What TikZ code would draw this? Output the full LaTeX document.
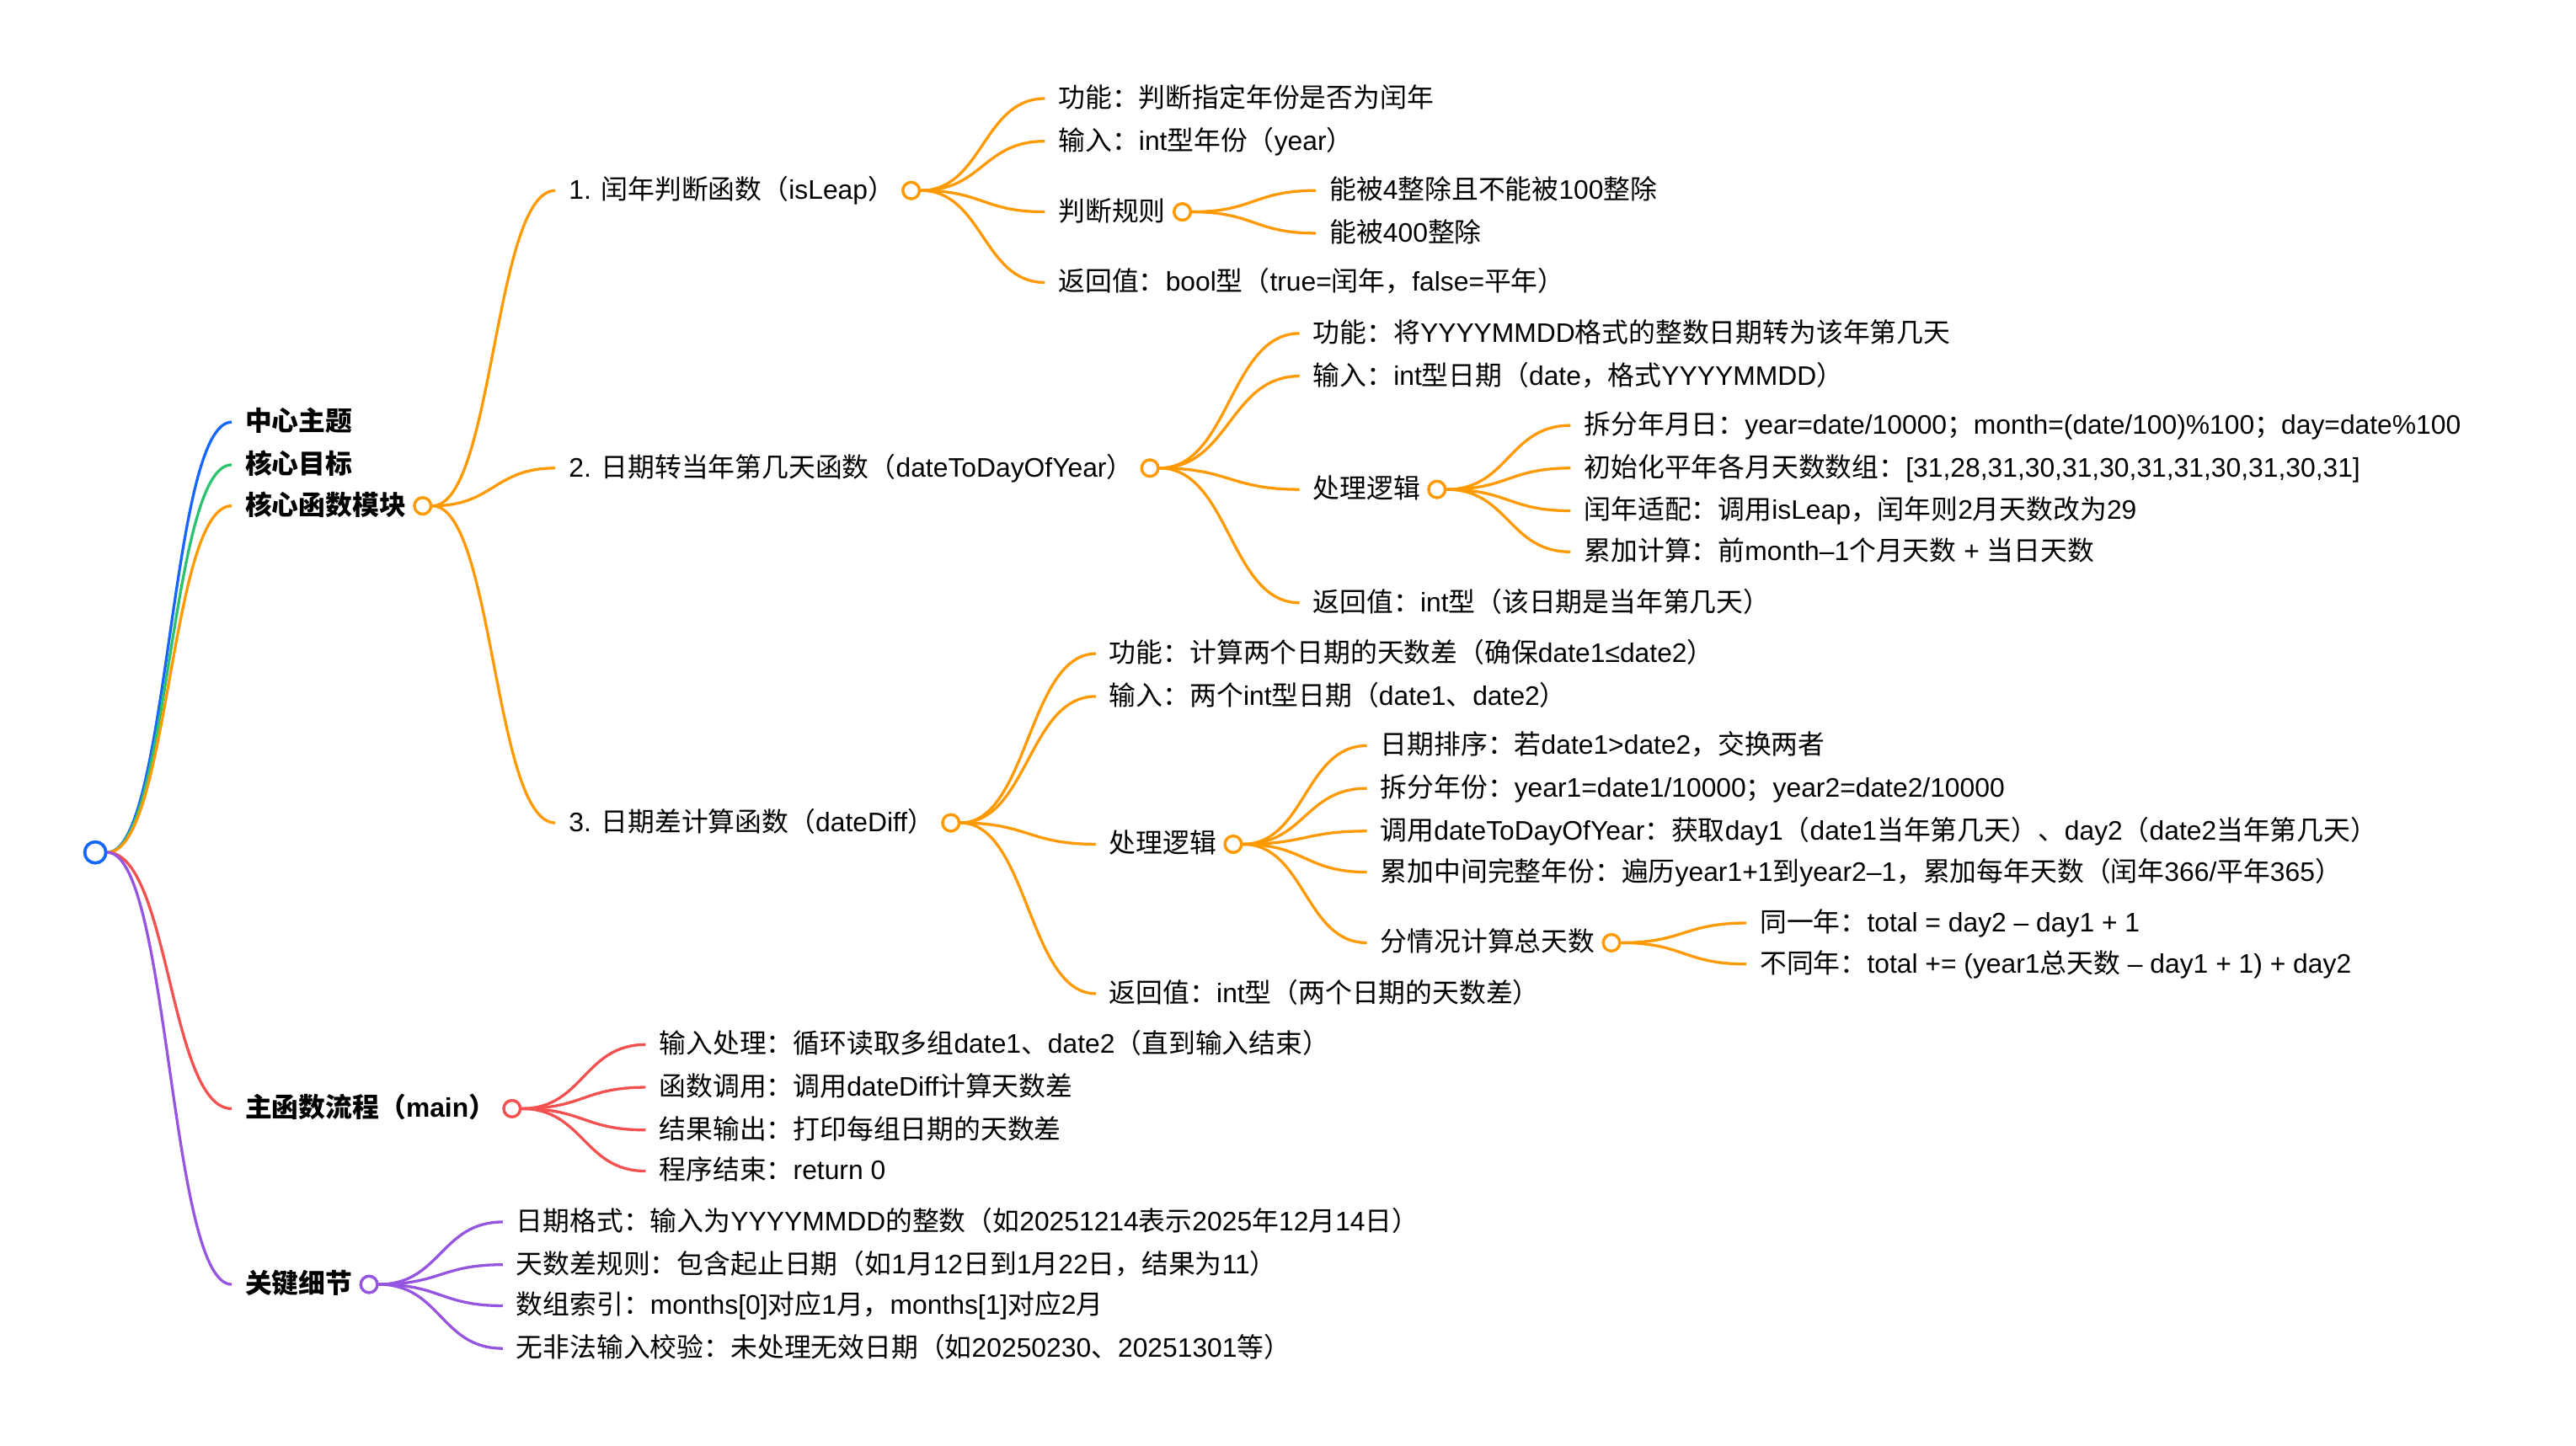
\documentclass[tikz,border=0pt]{standalone}
\usepackage{fontspec}
\setmainfont{Liberation Sans}
\newfontfamily\cjkfont{Noto Sans CJK SC}
\newfontfamily\latfont{Liberation Sans}
\usetikzlibrary{calc}
\newXeTeXintercharclass\CJKcls
\newcount\cjkc
\def\setcjkrange#1#2{\cjkc=#1 \loop \XeTeXcharclass\cjkc=\CJKcls \ifnum\cjkc<#2 \advance\cjkc by 1 \repeat}
\setcjkrange{"4E00}{"9FFF}
\setcjkrange{"3000}{"303F}
\setcjkrange{"FF00}{"FFEF}
\XeTeXinterchartoks 0 \CJKcls = {\cjkfont}
\XeTeXinterchartoks 4095 \CJKcls = {\cjkfont}
\XeTeXinterchartoks \CJKcls 0 = {\latfont}
\XeTeXinterchartoks \CJKcls 4095 = {\latfont}
\XeTeXinterchartokenstate=1
\definecolor{cblue}{RGB}{22,102,255}
\definecolor{cgreen}{RGB}{45,195,110}
\definecolor{corange}{RGB}{255,153,0}
\definecolor{cred}{RGB}{244,80,80}
\definecolor{cpurple}{RGB}{150,85,225}
\newcommand\mmedge[3]{\draw[#1, line width=1.2pt] let \p1=(#2.east), \p2=([xshift=-0.2cm]#3.west) in (\p1) .. controls ({(\x1+\x2)/2},\y1) and ({(\x1+\x2)/2},\y2) .. (\p2);}
\begin{document}
\begin{tikzpicture}[x=0.025cm,y=-0.025cm,
  txt/.style={anchor=west, inner sep=0pt, font=\fontsize{11.6}{14}\selectfont, text height=0.86em, text depth=0.1em},
  hd/.style={txt, font=\fontsize{11.6}{14}\selectfont\bfseries},
  dot/.style={circle, draw=#1, fill=white, line width=1.2pt, inner sep=0pt, minimum size=0.25cm, anchor=west}]
\useasboundingbox (0,0) rectangle (1568,880);
% root
\node[circle, draw=cblue, fill=white, line width=1.3pt, inner sep=0pt, minimum size=0.32cm] (root) at (58,519) {};
% level 1
\node[hd] (t1) at (149,257) {中心主题};
\node[hd] (t2) at (149,283) {核心目标};
\node[hd] (t3) at (149,308) {核心函数模块};
\node[hd] (t4) at (149,675) {主函数流程（main）};
\node[hd] (t5) at (149,782) {关键细节};
\node[dot=corange] (t3c) at ([xshift=0.1cm]t3.east) {};
\node[dot=cred] (t4c) at ([xshift=0.1cm]t4.east) {};
\node[dot=cpurple] (t5c) at ([xshift=0.1cm]t5.east) {};
% function 1
\node[txt] (a1) at (346,116) {1. 闰年判断函数（isLeap）};
\node[dot=corange] (a1c) at ([xshift=0.1cm]a1.east) {};
\node[txt] (a11) at (644,60) {功能：判断指定年份是否为闰年};
\node[txt] (a12) at (644,86) {输入：int型年份（year）};
\node[txt] (a13) at (644,129) {判断规则};
\node[dot=corange] (a13c) at ([xshift=0.1cm]a13.east) {};
\node[txt] (a14) at (644,172) {返回值：bool型（true=闰年，false=平年）};
\node[txt] (a131) at (809,116) {能被4整除且不能被100整除};
\node[txt] (a132) at (809,142) {能被400整除};
% function 2
\node[txt] (a2) at (346,285) {2. 日期转当年第几天函数（dateToDayOfYear）};
\node[dot=corange] (a2c) at ([xshift=0.1cm]a2.east) {};
\node[txt] (a21) at (799,203) {功能：将YYYYMMDD格式的整数日期转为该年第几天};
\node[txt] (a22) at (799,229) {输入：int型日期（date，格式YYYYMMDD）};
\node[txt] (a23) at (799,298) {处理逻辑};
\node[dot=corange] (a23c) at ([xshift=0.1cm]a23.east) {};
\node[txt] (a24) at (799,367) {返回值：int型（该日期是当年第几天）};
\node[txt] (a231) at (964,259) {拆分年月日：year=date/10000；month=(date/100)\%100；day=date\%100};
\node[txt] (a232) at (964,285) {初始化平年各月天数数组：[31,28,31,30,31,30,31,31,30,31,30,31]};
\node[txt] (a233) at (964,311) {闰年适配：调用isLeap，闰年则2月天数改为29};
\node[txt] (a234) at (964,336) {累加计算：前month–1个月天数 + 当日天数};
% function 3
\node[txt] (a3) at (346,501) {3. 日期差计算函数（dateDiff）};
\node[dot=corange] (a3c) at ([xshift=0.1cm]a3.east) {};
\node[txt] (a31) at (675,398) {功能：计算两个日期的天数差（确保date1≤date2）};
\node[txt] (a32) at (675,424) {输入：两个int型日期（date1、date2）};
\node[txt] (a33) at (675,514) {处理逻辑};
\node[dot=corange] (a33c) at ([xshift=0.1cm]a33.east) {};
\node[txt] (a34) at (675,605) {返回值：int型（两个日期的天数差）};
\node[txt] (a331) at (840,454) {日期排序：若date1>date2，交换两者};
\node[txt] (a332) at (840,480) {拆分年份：year1=date1/10000；year2=date2/10000};
\node[txt] (a333) at (840,506) {调用dateToDayOfYear：获取day1（date1当年第几天）、day2（date2当年第几天）};
\node[txt] (a334) at (840,531) {累加中间完整年份：遍历year1+1到year2–1，累加每年天数（闰年366/平年365）};
\node[txt] (a335) at (840,574) {分情况计算总天数};
\node[dot=corange] (a335c) at ([xshift=0.1cm]a335.east) {};
\node[txt] (a3351) at (1071,562) {同一年：total = day2 – day1 + 1};
\node[txt] (a3352) at (1071,587) {不同年：total += (year1总天数 – day1 + 1) + day2};
% main
\node[txt] (m1) at (401,636) {输入处理：循环读取多组date1、date2（直到输入结束）};
\node[txt] (m2) at (401,662) {函数调用：调用dateDiff计算天数差};
\node[txt] (m3) at (401,688) {结果输出：打印每组日期的天数差};
\node[txt] (m4) at (401,713) {程序结束：return 0};
% details
\node[txt] (k1) at (314,744) {日期格式：输入为YYYYMMDD的整数（如20251214表示2025年12月14日）};
\node[txt] (k2) at (314,770) {天数差规则：包含起止日期（如1月12日到1月22日，结果为11）};
\node[txt] (k3) at (314,795) {数组索引：months[0]对应1月，months[1]对应2月};
\node[txt] (k4) at (314,821) {无非法输入校验：未处理无效日期（如20250230、20251301等）};
% edges
\begin{scope}[on background layer/.style={}]
\mmedge{cblue}{root}{t1}
\mmedge{cgreen}{root}{t2}
\mmedge{corange}{root}{t3}
\mmedge{cred}{root}{t4}
\mmedge{cpurple}{root}{t5}
\mmedge{corange}{t3c}{a1}
\mmedge{corange}{t3c}{a2}
\mmedge{corange}{t3c}{a3}
\mmedge{corange}{a1c}{a11}
\mmedge{corange}{a1c}{a12}
\mmedge{corange}{a1c}{a13}
\mmedge{corange}{a1c}{a14}
\mmedge{corange}{a13c}{a131}
\mmedge{corange}{a13c}{a132}
\mmedge{corange}{a2c}{a21}
\mmedge{corange}{a2c}{a22}
\mmedge{corange}{a2c}{a23}
\mmedge{corange}{a2c}{a24}
\mmedge{corange}{a23c}{a231}
\mmedge{corange}{a23c}{a232}
\mmedge{corange}{a23c}{a233}
\mmedge{corange}{a23c}{a234}
\mmedge{corange}{a3c}{a31}
\mmedge{corange}{a3c}{a32}
\mmedge{corange}{a3c}{a33}
\mmedge{corange}{a3c}{a34}
\mmedge{corange}{a33c}{a331}
\mmedge{corange}{a33c}{a332}
\mmedge{corange}{a33c}{a333}
\mmedge{corange}{a33c}{a334}
\mmedge{corange}{a33c}{a335}
\mmedge{corange}{a335c}{a3351}
\mmedge{corange}{a335c}{a3352}
\mmedge{cred}{t4c}{m1}
\mmedge{cred}{t4c}{m2}
\mmedge{cred}{t4c}{m3}
\mmedge{cred}{t4c}{m4}
\mmedge{cpurple}{t5c}{k1}
\mmedge{cpurple}{t5c}{k2}
\mmedge{cpurple}{t5c}{k3}
\mmedge{cpurple}{t5c}{k4}
\end{scope}
% redraw circles on top
\foreach \c/\col in {t3c/corange,t4c/cred,t5c/cpurple,a1c/corange,a13c/corange,a2c/corange,a23c/corange,a3c/corange,a33c/corange,a335c/corange}
  \draw[\col, fill=white, line width=1.2pt] (\c.center) circle (0.125cm);
\draw[cblue, fill=white, line width=1.3pt] (root.center) circle (0.16cm);
\end{tikzpicture}
\end{document}
